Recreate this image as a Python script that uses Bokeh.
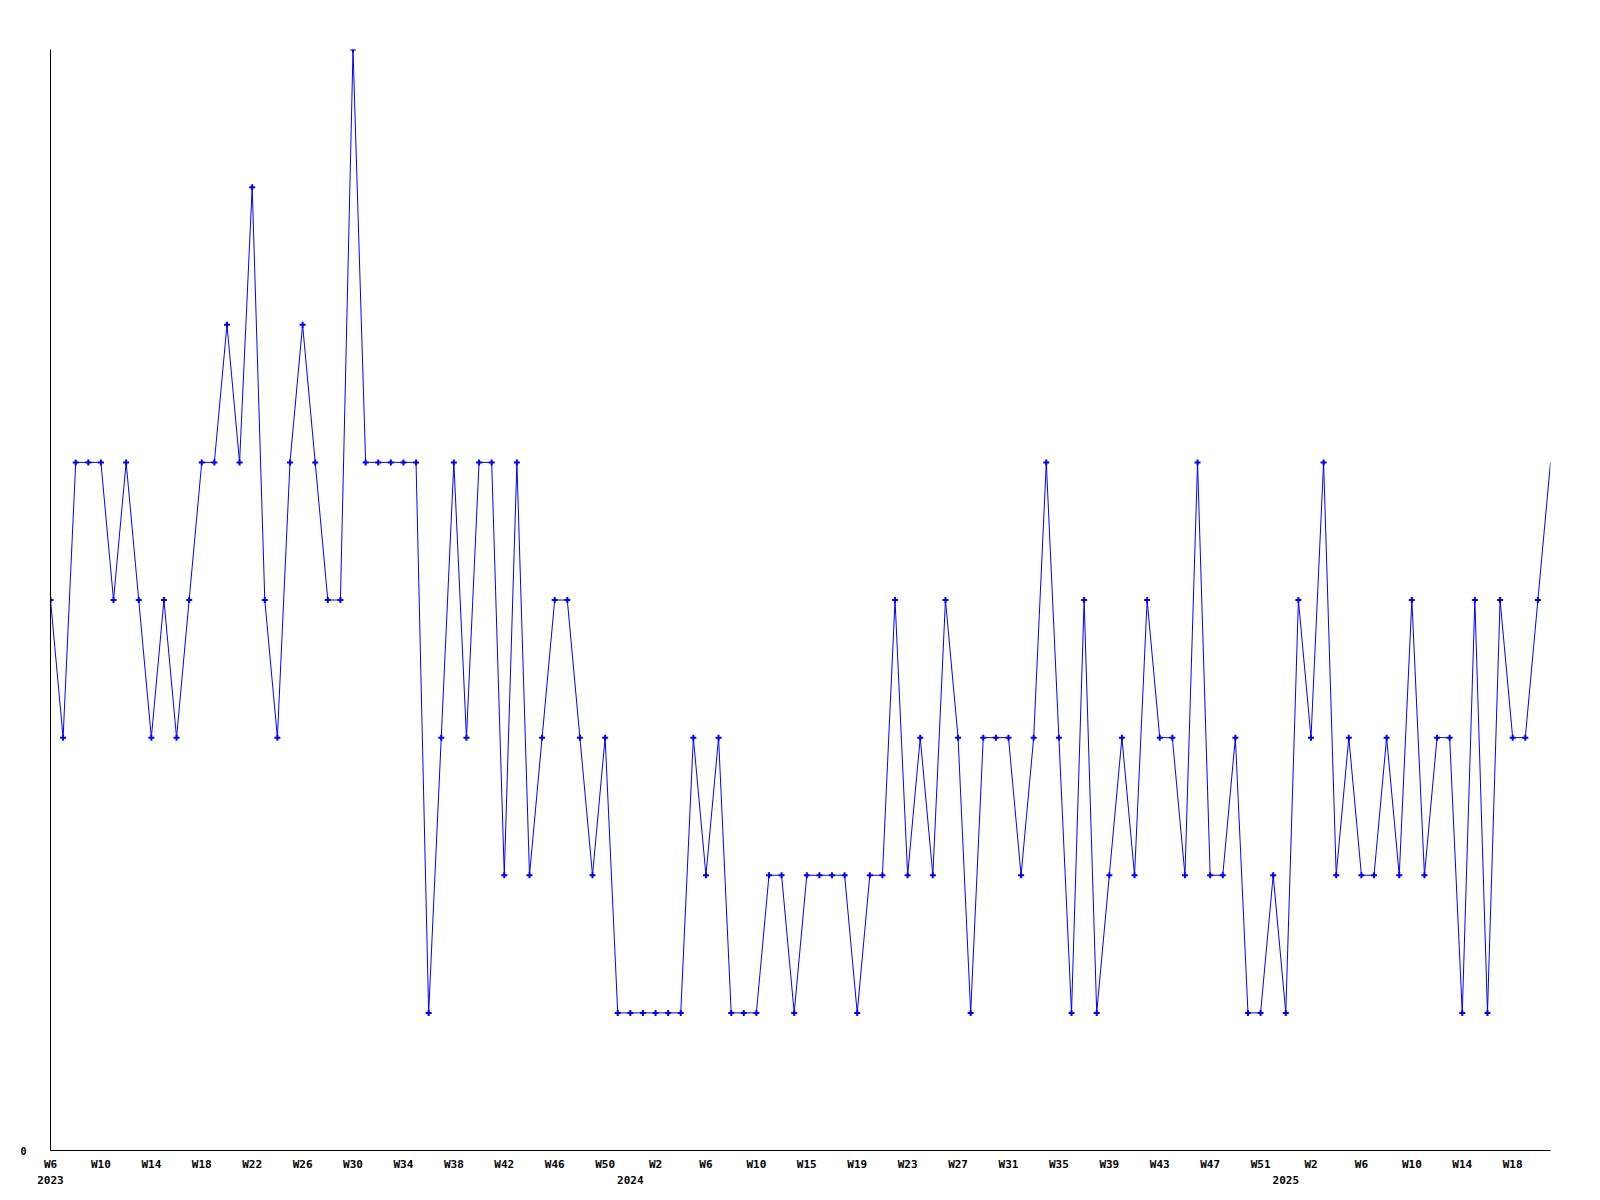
from bokeh.plotting import figure
from bokeh.models import Range1d, FixedTicker, LinearAxis
from bokeh.embed import file_html
from bokeh.resources import INLINE

# weekly counts, 2023-W6 .. 2025-W21
values = [4, 3, 5, 5, 5, 4, 5, 4, 3, 4,
          3, 4, 5, 5, 6, 5, 7, 4, 3, 5,
          6, 5, 4, 4, 8, 5, 5, 5, 5, 5,
          1, 3, 5, 3, 5, 5, 2, 5, 2, 3,
          4, 4, 3, 2, 3, 1, 1, 1, 1, 1,
          1, 3, 2, 3, 1, 1, 1, 2, 2, 1,
          2, 2, 2, 2, 1, 2, 2, 4, 2, 3,
          2, 4, 3, 1, 3, 3, 3, 2, 3, 5,
          3, 1, 4, 1, 2, 3, 2, 4, 3, 3,
          2, 5, 2, 2, 3, 1, 1, 2, 1, 4,
          3, 5, 2, 3, 2, 2, 3, 2, 4, 2,
          3, 3, 1, 4, 1, 4, 3, 3, 4, 5]

week_labels = ["W6", "W10", "W14", "W18", "W22", "W26", "W30", "W34", "W38", "W42",
               "W46", "W50", "W2", "W6", "W10", "W15", "W19", "W23", "W27", "W31",
               "W35", "W39", "W43", "W47", "W51", "W2", "W6", "W10", "W14", "W18"]
week_label_idx = list(range(0, 4 * len(week_labels), 4))
year_labels = ["2023", "2024", "2025"]
year_label_idx = [0, 46, 98]
y_ticks = [0]
y_max = 8

x = list(range(len(values)))

FONT = "DejaVu Sans Mono"

p = figure(width=1592, height=1192, output_backend="svg", toolbar_location=None,
           x_range=Range1d(0, len(values) - 1), y_range=Range1d(0, y_max),
           x_axis_type=None, y_axis_type=None,
           min_border_left=50, min_border_right=42, min_border_top=49, min_border_bottom=42)
p.outline_line_color = None
p.background_fill_color = "white"
p.border_fill_color = "white"

yaxis = LinearAxis(ticker=FixedTicker(ticks=y_ticks))
yaxis.axis_line_color = "black"
yaxis.axis_line_width = 1
yaxis.major_tick_out = 0
yaxis.major_tick_in = 0
yaxis.minor_tick_out = 0
yaxis.minor_tick_in = 0
yaxis.major_label_standoff = 24
yaxis.major_label_text_font = FONT
yaxis.major_label_text_font_style = "bold"
yaxis.major_label_text_font_size = "10px"
yaxis.major_label_text_color = "black"
p.add_layout(yaxis, "left")

xaxis = LinearAxis(ticker=FixedTicker(ticks=week_label_idx),
                   major_label_overrides={i: l for i, l in zip(week_label_idx, week_labels)})
xaxis.axis_line_color = "black"
xaxis.axis_line_width = 1
xaxis.major_tick_out = 0
xaxis.major_tick_in = 0
xaxis.minor_tick_out = 0
xaxis.minor_tick_in = 0
xaxis.major_label_standoff = 7
xaxis.major_label_text_font = FONT
xaxis.major_label_text_font_style = "bold"
xaxis.major_label_text_font_size = "11px"
xaxis.major_label_text_color = "black"
p.add_layout(xaxis, "below")

yearaxis = LinearAxis(ticker=FixedTicker(ticks=year_label_idx),
                      major_label_overrides={i: l for i, l in zip(year_label_idx, year_labels)})
yearaxis.axis_line_color = None
yearaxis.major_tick_out = 0
yearaxis.major_tick_in = 0
yearaxis.minor_tick_out = 0
yearaxis.minor_tick_in = 0
yearaxis.major_label_standoff = 2
yearaxis.major_label_text_font = FONT
yearaxis.major_label_text_font_style = "bold"
yearaxis.major_label_text_font_size = "11px"
yearaxis.major_label_text_color = "black"
p.add_layout(yearaxis, "below")

p.line(x, values, line_color="#0000ff", line_width=1)
p.scatter(x[:-1], values[:-1], marker="cross", size=6, line_width=2, line_color="#0000ff")

open("out.html", "w").write(file_html(p, INLINE))
